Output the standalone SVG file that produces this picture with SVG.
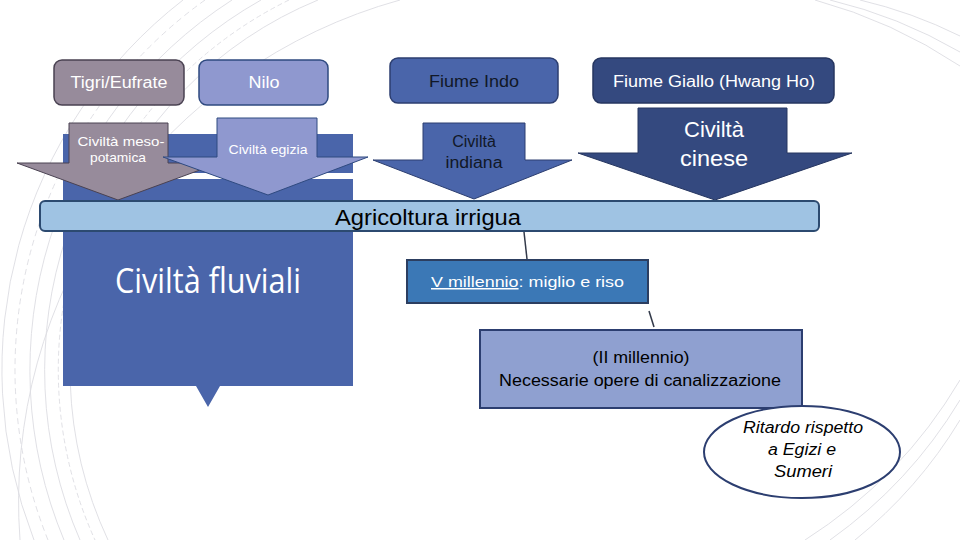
<svg xmlns="http://www.w3.org/2000/svg" width="960" height="540" viewBox="0 0 960 540">
<style>
.t{font-family:"Liberation Sans",Arial,sans-serif;text-anchor:middle}
.bg{fill:none;stroke:#dcdce2;stroke-width:0.9}
.top{stroke-width:1.5}
.arr{stroke-width:1}
</style>
<rect width="960" height="540" fill="#ffffff"/>
<g id="background">
<path class="bg" d="M318,0 A400,400 0 0 0 108,540"/>
<path class="bg" d="M289,0 A412,412 0 0 0 95,540" stroke-dasharray="5 3"/>
<path class="bg" d="M261,0 A425,425 0 0 0 80,540"/>
<path class="bg" d="M232,0 A440,440 0 0 0 64,540"/>
<path class="bg" d="M205,0 A455,455 0 0 0 48,540" stroke-dasharray="6 4"/>
<path class="bg" d="M183,0 A468,468 0 0 0 34,540"/>
<path class="bg" d="M400,0 A520,520 0 0 0 20,540"/>
<path class="bg" d="M830,0 A480,480 0 0 1 960,52"/>
<path class="bg" d="M815,0 A500,500 0 0 1 960,66"/>
<path class="bg" d="M860,0 A460,460 0 0 1 960,36"/>
<path class="bg" d="M960,380 A480,480 0 0 1 805,540"/>
<path class="bg" d="M960,400 A470,470 0 0 1 830,540"/>
<path class="bg" d="M960,420 A460,460 0 0 1 855,540"/>
</g>
<g id="civilta-fluviali">
<path d="M63,134 H353 V386 H220 L208,407 L196,386 H63 Z" fill="#4a65aa"/>
<rect x="63" y="173" width="290" height="6" fill="#ffffff"/>
<text class="t" x="208" y="293" font-size="34" fill="#ffffff" textLength="186" lengthAdjust="spacingAndGlyphs" style="font-family:'Open Sans','Noto Sans',sans-serif">Civiltà fluviali</text>
</g>
<g id="tigri">
<rect class="top" x="54" y="60" width="130" height="45" rx="8" fill="#978b9b" stroke="#4a4252"/>
<text class="t" x="119" y="88" font-size="16" fill="#ffffff" textLength="97" lengthAdjust="spacingAndGlyphs">Tigri/Eufrate</text>
</g>
<g id="nilo">
<rect class="top" x="199" y="60" width="129" height="45" rx="8" fill="#8f98cf" stroke="#2f4a80"/>
<text class="t" x="264" y="88" font-size="16" fill="#ffffff" textLength="31" lengthAdjust="spacingAndGlyphs">Nilo</text>
</g>
<g id="indo">
<rect class="top" x="390" y="58" width="168" height="45" rx="8" fill="#4a65aa" stroke="#2c3e70"/>
<text class="t" x="474" y="87" font-size="16" fill="#111827" textLength="90" lengthAdjust="spacingAndGlyphs">Fiume Indo</text>
</g>
<g id="giallo">
<rect class="top" x="593" y="58" width="241" height="45" rx="8" fill="#34497f" stroke="#263660"/>
<text class="t" x="714" y="87" font-size="16" fill="#ffffff" textLength="202" lengthAdjust="spacingAndGlyphs">Fiume Giallo (Hwang Ho)</text>
</g>
<g id="arrow-mesopotamica">
<path class="arr" d="M69,123 H168 V163 H219 L118,200 L17,163 H69 Z" fill="#978b9b" stroke="#4a4252"/>
<text class="t" x="121" y="146" font-size="13" fill="#ffffff" textLength="87" lengthAdjust="spacingAndGlyphs">Civiltà meso-</text>
<text class="t" x="118" y="162" font-size="13" fill="#ffffff" textLength="56" lengthAdjust="spacingAndGlyphs">potamica</text>
</g>
<g id="arrow-egizia">
<path class="arr" d="M217,118 H317 V157 H368 L268,195 L163,157 H217 Z" fill="#8f98cf" stroke="#2f4a80"/>
<text class="t" x="268" y="154" font-size="13" fill="#ffffff" textLength="79" lengthAdjust="spacingAndGlyphs">Civiltà egizia</text>
</g>
<g id="arrow-indiana">
<path class="arr" d="M423,123 H525 V160 H572 L474,199 L373,160 H423 Z" fill="#4a65aa" stroke="#2c3e70"/>
<text class="t" x="474" y="147" font-size="16" fill="#111827">Civiltà</text>
<text class="t" x="474" y="168" font-size="16" fill="#111827" textLength="57" lengthAdjust="spacingAndGlyphs">indiana</text>
</g>
<g id="arrow-cinese">
<path class="arr" d="M638,108 H787 V153 H852 L715,200 L578,153 H638 Z" fill="#34497f" stroke="#263660"/>
<text class="t" x="714" y="137" font-size="22" fill="#ffffff">Civiltà</text>
<text class="t" x="714" y="166" font-size="22" fill="#ffffff" textLength="68" lengthAdjust="spacingAndGlyphs">cinese</text>
</g>
<g id="agricoltura">
<rect x="40" y="201" width="779" height="30" rx="5" fill="#9fc3e3" stroke="#2c4a70" stroke-width="2"/>
<text class="t" x="428" y="225" font-size="22" fill="#000000" textLength="186" lengthAdjust="spacingAndGlyphs">Agricoltura irrigua</text>
</g>
<g id="connectors" stroke="#333a4a" stroke-width="1.5" fill="none">
<line x1="524" y1="232" x2="527" y2="259"/>
<line x1="649" y1="311" x2="654" y2="327"/>
</g>
<g id="v-millennio">
<rect x="407" y="260" width="241" height="43" fill="#3b78b6" stroke="#2c3e60" stroke-width="2"/>
<text x="431" y="287" font-family="'Liberation Sans',Arial,sans-serif" font-size="15" fill="#ffffff" textLength="193" lengthAdjust="spacingAndGlyphs"><tspan text-decoration="underline">V millennio</tspan>: miglio e riso</text>
</g>
<g id="ii-millennio">
<rect x="480" y="330" width="322" height="78" fill="#8fa0d0" stroke="#2c3e70" stroke-width="2"/>
<text class="t" x="641" y="363" font-size="16" fill="#000000" textLength="97" lengthAdjust="spacingAndGlyphs">(II millennio)</text>
<text class="t" x="640" y="386" font-size="16" fill="#000000" textLength="282" lengthAdjust="spacingAndGlyphs">Necessarie opere di canalizzazione</text>
</g>
<g id="ritardo">
<ellipse cx="802" cy="452" rx="98" ry="46" fill="#ffffff" stroke="#2c3e70" stroke-width="2"/>
<text class="t" x="803" y="433" font-size="16" font-style="italic" fill="#000000" textLength="120" lengthAdjust="spacingAndGlyphs">Ritardo rispetto</text>
<text class="t" x="802" y="455" font-size="16" font-style="italic" fill="#000000" textLength="68" lengthAdjust="spacingAndGlyphs">a Egizi e</text>
<text class="t" x="803" y="477" font-size="16" font-style="italic" fill="#000000" textLength="58" lengthAdjust="spacingAndGlyphs">Sumeri</text>
</g>
</svg>
